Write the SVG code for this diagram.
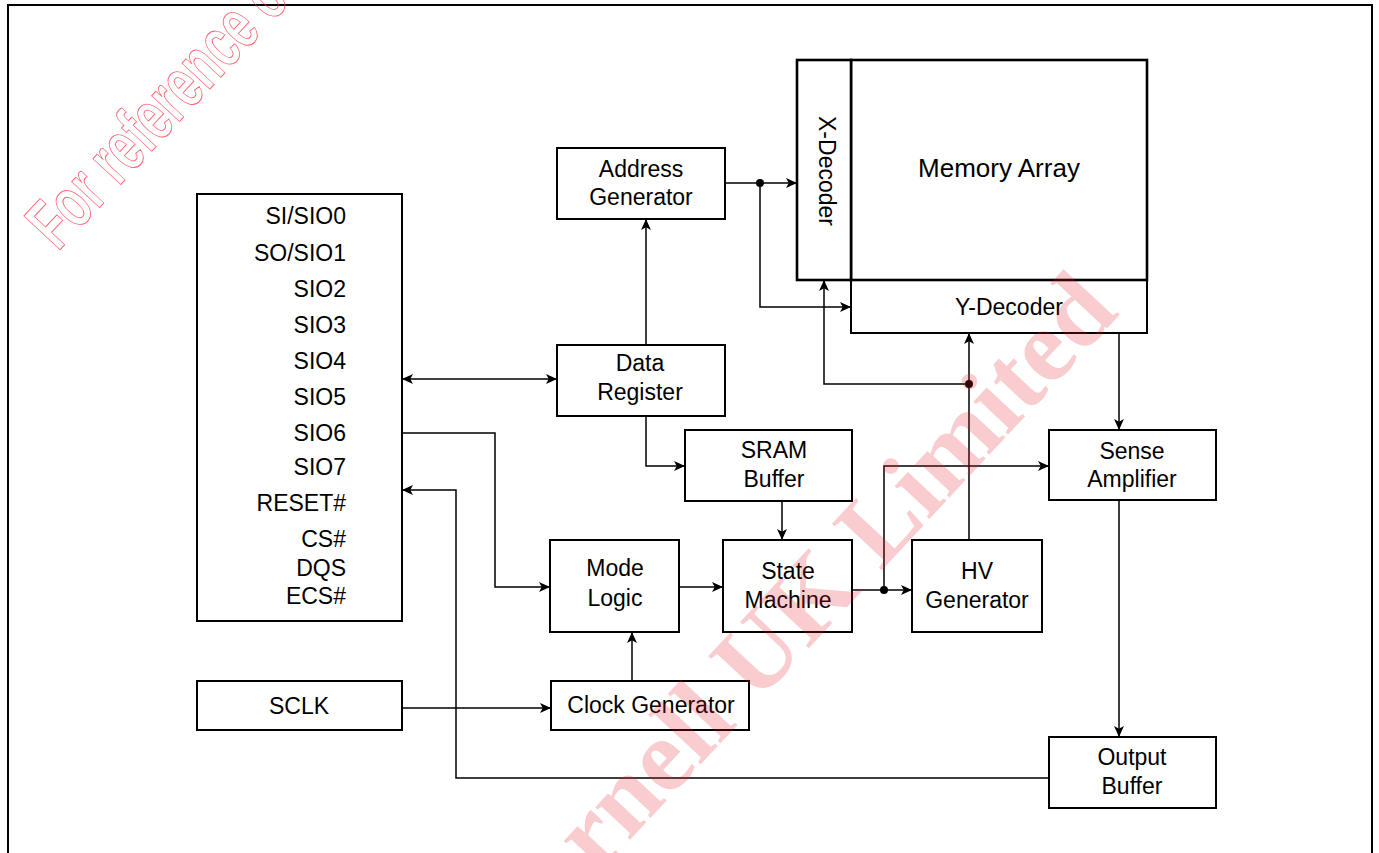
<svg xmlns="http://www.w3.org/2000/svg" width="1379" height="853" viewBox="0 0 1379 853">
<defs>
<style>
.box{fill:#fff;stroke:#000;stroke-width:2}
.thick{fill:#fff;stroke:#000;stroke-width:2.6}
.t{font-family:"Liberation Sans",Arial,sans-serif;font-size:23px;fill:#000;text-anchor:middle}
.pin{font-family:"Liberation Sans",Arial,sans-serif;font-size:23px;fill:#000;text-anchor:end}
.c{fill:none;stroke:#000;stroke-width:1.5}
</style>
<marker id="arr" viewBox="0 0 10 10" refX="10" refY="5" markerWidth="11" markerHeight="11" markerUnits="userSpaceOnUse" orient="auto-start-reverse">
<path d="M0,0.5 L10,5 L0,9.5 L2.5,5 z" fill="#000"/>
</marker>
</defs>
<rect width="1379" height="853" fill="#fff"/>
<rect x="8" y="5" width="1364" height="860" fill="none" stroke="#000" stroke-width="2"/>

<g id="pins">
<rect class="box" x="197" y="194" width="205" height="427"/>
<text class="pin" x="346" y="224">SI/SIO0</text>
<text class="pin" x="346" y="261">SO/SIO1</text>
<text class="pin" x="346" y="297">SIO2</text>
<text class="pin" x="346" y="333">SIO3</text>
<text class="pin" x="346" y="369">SIO4</text>
<text class="pin" x="346" y="405">SIO5</text>
<text class="pin" x="346" y="441">SIO6</text>
<text class="pin" x="346" y="475">SIO7</text>
<text class="pin" x="346" y="511">RESET#</text>
<text class="pin" x="346" y="547">CS#</text>
<text class="pin" x="346" y="576">DQS</text>
<text class="pin" x="346" y="604">ECS#</text>
</g>
<g id="sclk">
<rect class="box" x="197" y="681" width="205" height="49"/>
<text class="t" x="299" y="714">SCLK</text>
</g>
<g id="address-generator">
<rect class="box" x="557" y="148" width="168" height="71"/>
<text class="t" x="641" y="177">Address</text>
<text class="t" x="641" y="205">Generator</text>
</g>
<g id="data-register">
<rect class="box" x="557" y="345" width="168" height="71"/>
<text class="t" x="640" y="371">Data</text>
<text class="t" x="640" y="400">Register</text>
</g>
<g id="sram-buffer">
<rect class="box" x="685" y="430" width="167" height="71"/>
<text class="t" x="774" y="458">SRAM</text>
<text class="t" x="774" y="487">Buffer</text>
</g>
<g id="mode-logic">
<rect class="box" x="550" y="540" width="129" height="92"/>
<text class="t" x="615" y="576">Mode</text>
<text class="t" x="615" y="606">Logic</text>
</g>
<g id="state-machine">
<rect class="box" x="723" y="540" width="129" height="92"/>
<text class="t" x="788" y="579">State</text>
<text class="t" x="788" y="608">Machine</text>
</g>
<g id="hv-generator">
<rect class="box" x="912" y="540" width="130" height="92"/>
<text class="t" x="977" y="579">HV</text>
<text class="t" x="977" y="608">Generator</text>
</g>
<g id="clock-generator">
<rect class="box" x="551" y="681" width="198" height="49"/>
<text class="t" x="651" y="713">Clock Generator</text>
</g>
<g id="y-decoder">
<rect class="box" x="851" y="280" width="296" height="53"/>
<text class="t" x="1009" y="315">Y-Decoder</text>
</g>
<g id="memory-array">
<rect class="thick" x="851" y="60" width="296" height="220"/>
<text class="t" x="999" y="177" style="font-size:26px">Memory Array</text>
</g>
<g id="x-decoder">
<rect class="thick" x="797" y="60" width="54" height="220"/>
<text class="t" transform="translate(827,171) rotate(90)" x="0" y="8">X-Decoder</text>
</g>
<g id="sense-amplifier">
<rect class="box" x="1049" y="430" width="167" height="70"/>
<text class="t" x="1132" y="459">Sense</text>
<text class="t" x="1132" y="487">Amplifier</text>
</g>
<g id="output-buffer">
<rect class="box" x="1049" y="737" width="167" height="71"/>
<text class="t" x="1132" y="765">Output</text>
<text class="t" x="1132" y="794">Buffer</text>
</g>

<g id="connectors">
<path class="c" d="M402,379 H557" marker-start="url(#arr)" marker-end="url(#arr)"/>
<path class="c" d="M402,433 H495 V587 H550" marker-end="url(#arr)"/>
<path class="c" d="M1049,778 H456 V490 H402" marker-end="url(#arr)"/>
<path class="c" d="M402,708 H551" marker-end="url(#arr)"/>
<path class="c" d="M632,681 V632" marker-end="url(#arr)"/>
<path class="c" d="M679,587 H723" marker-end="url(#arr)"/>
<path class="c" d="M646,345 V219" marker-end="url(#arr)"/>
<path class="c" d="M646,416 V466 H685" marker-end="url(#arr)"/>
<path class="c" d="M782,501 V540" marker-end="url(#arr)"/>
<path class="c" d="M852,590 H912" marker-end="url(#arr)"/>
<path class="c" d="M884,590 V466 H1049" marker-end="url(#arr)"/>
<path class="c" d="M969,540 V333" marker-end="url(#arr)"/>
<path class="c" d="M969,384 H824 V280" marker-end="url(#arr)"/>
<path class="c" d="M725,183 H797" marker-end="url(#arr)"/>
<path class="c" d="M760,183 V307 H851" marker-end="url(#arr)"/>
<path class="c" d="M1119,333 V430" marker-end="url(#arr)"/>
<path class="c" d="M1119,500 V737" marker-end="url(#arr)"/>
<circle cx="760" cy="183" r="4"/>
<circle cx="884" cy="590" r="4"/>
<circle cx="969" cy="384" r="4"/>
</g>

<g id="watermark">
<text transform="translate(58,252) rotate(-47)" x="0" y="0" textLength="410" lengthAdjust="spacingAndGlyphs" style="font-family:'Liberation Sans',Arial,sans-serif;font-weight:bold;font-size:72px;fill:none;stroke:#f34;stroke-width:1;stroke-linejoin:round;opacity:0.75">For reference only</text>
<text transform="translate(812,592) rotate(-47)" x="30" y="36" text-anchor="middle" style="font-family:'Liberation Serif','Times New Roman',serif;font-weight:bold;font-size:104px;fill:#e8202a;opacity:0.22">rnell UK Limited</text>
</g>
</svg>
